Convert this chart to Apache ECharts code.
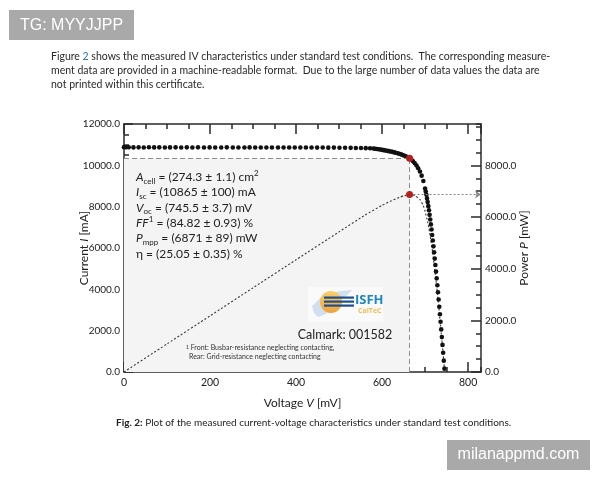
<!DOCTYPE html>
<html><head><meta charset="utf-8">
<script src="https://cdn.jsdelivr.net/npm/echarts@6/dist/echarts.min.js"></script>
<style>html,body{margin:0;padding:0;background:#fff}#c{width:600px;height:480px}</style>
</head><body><div id="c"></div>
<script>
// ---- data ----
const ivVoltage = [0,5,11,22,34,46,58,70,82,95,107,120,133,146,159,172,186,199,212,226,239,253,266,280,292,305,318,331,344,358,371,384,397,410,423,436,449,462,475,488,501,514,527,539,551,562,572,
  580,584,588,592,596,600,604,608,612,616,620,624,628,632,636,640,644,648,652,656,660,664,668,672,676,680,684,688,692,696,
  700,701.5,703,704.5,706,707.5,709,710.5,712,713.5,715,716.5,718,719.5,721,722.5,724,725.5,727,728.5,730,731.5,733,734.5,736,737.5,739,740.5,742,743.5,745];
const ivCurrent = [10880,10875,10872,10868,10870,10866,10872,10868,10870,10865,10868,10871,10866,10869,10864,10870,10866,10868,10862,10866,10870,10864,10866,10862,10868,10864,10866,10860,10866,10862,10864,10860,10864,10862,10860,10862,10858,10860,10856,10858,10852,10850,10846,10842,10838,10832,10826,
  10817,10803,10790,10777,10764,10750,10735,10719,10702,10686,10670,10650,10629,10607,10584,10560,10531,10500,10467,10431,10393,10348,10278,10198,10104,9992,9860,9700,9500,9240,
  8880,8730,8573,8400,8221,8025,7824,7605,7382,7142,6895,6632,6363,6080,5789,5486,5177,4857,4532,4197,3857,3508,3155,2795,2431,2062,1689,1312,932,548,163];
const powerVoltage = [0,100,200,300,400,500,560,600,620,640,652,664,676,688,696,700,706,712,718,724,730,736,742,745.6];
const powerValue   = [0,1087,2173,3259,4344,5425,6070,6450,6615,6758,6824,6871,6830,6674,6431,6216,5804,5256,4569,3748,2816,1789,692,0];
const mppVoltage = 664, mppCurrent = 10348, mppPower = 6871;
const voltageMax = 830, currentMax = 12000, powerMax = 9600;
const resultLines = [
  '{i|A}{sub|cell} = (274.3 ± 1.1) cm{sup|2}',
  '{i|I}{sub|sc} = (10865 ± 100) mA',
  '{i|V}{sub|oc} = (745.5 ± 3.7) mV',
  '{i|FF}{sup|1} = (84.82 ± 0.93) %',
  '{i|P}{sub|mpp} = (6871 ± 89) mW',
  'η = (25.05 ± 0.35) %'
];
const paragraphLines = [
  'Figure {blue|2} shows the measured IV characteristics under standard test conditions.  The corresponding measure-',
  'ment data are provided in a machine-readable format.  Due to the large number of data values the data are',
  'not printed within this certificate.'
];
const footnoteLines = ['{sup|1} Front: Busbar-resistance neglecting contacting,', 'Rear: Grid-resistance neglecting contacting'];

// ---- chart ----
const FONT = 'Lato';
const AX = '#2a2a2a';
const chart = echarts.init(document.getElementById('c'));
function xAx(pos, interval, len, showLine, showLabel, extra) {
  return Object.assign({
    type: 'value', position: pos, min: 0, max: voltageMax, interval: interval,
    axisLine: { show: showLine, onZero: false, lineStyle: { color: AX, width: 1.5 } },
    axisTick: { show: true, inside: true, length: len, lineStyle: { color: AX, width: 1.5 } },
    axisLabel: { show: showLabel, showMaxLabel: false, fontFamily: FONT, fontSize: 10.5, color: '#222', margin: 5 },
    splitLine: { show: false }
  }, extra || {});
}
function yAx(pos, max, interval, len, showLine, showLabel, extra) {
  return Object.assign({
    type: 'value', position: pos, min: 0, max: max, interval: interval,
    axisLine: { show: showLine, onZero: false, lineStyle: { color: AX, width: 1.5 } },
    axisTick: { show: true, inside: true, length: len, lineStyle: { color: AX, width: 1.5 } },
    axisLabel: { show: showLabel, showMaxLabel: pos === 'left', fontFamily: FONT, fontSize: 10, color: '#222', margin: 4,
      formatter: v => v.toFixed(1) },
    splitLine: { show: false }
  }, extra || {});
}
const nameRich = { i: { fontStyle: 'italic', fontFamily: FONT, fontSize: 12, color: '#222' } };
const richMain = {
  i: { fontStyle: 'italic', fontFamily: FONT, fontSize: 12, fill: '#222', color: '#222', lineHeight: 16 },
  sub: { fontFamily: FONT, fontSize: 8, fill: '#222', color: '#222', lineHeight: 9, verticalAlign: 'bottom' },
  sup: { fontFamily: FONT, fontSize: 8, fill: '#222', color: '#222', lineHeight: 8, verticalAlign: 'top' }
};
const graphics = [];
// watermark boxes
graphics.push({ type: 'rect', shape: { x: 9, y: 10, width: 125, height: 30 }, style: { fill: '#a9a9a9' } });
graphics.push({ type: 'text', style: { text: 'TG: MYYJJPP', x: 71.5, y: 25.5, align: 'center', verticalAlign: 'middle', font: '16px "Liberation Sans"', fill: '#fff' } });
graphics.push({ type: 'rect', shape: { x: 447, y: 440, width: 143, height: 30 }, style: { fill: '#a9a9a9' } });
graphics.push({ type: 'text', style: { text: 'milanappmd.com', x: 518.5, y: 455, align: 'center', verticalAlign: 'middle', font: '16px "Liberation Sans"', fill: '#fff' } });
// paragraph
paragraphLines.forEach((t, k) => graphics.push({ type: 'text', style: {
  text: t, x: 51, y: 57 + k * 14, verticalAlign: 'middle', fontFamily: FONT, fontSize: 10.5, fill: '#2a2a2a',
  rich: { blue: { fontFamily: FONT, fontSize: 10.5, fill: '#2e75b6', color: '#2e75b6' } } } }));
// caption
graphics.push({ type: 'text', style: {
  text: '{b|Fig. 2:} Plot of the measured current-voltage characteristics under standard test conditions.',
  x: 116, y: 423, verticalAlign: 'middle', fontFamily: FONT, fontSize: 10, fill: '#222',
  rich: { b: { fontWeight: 'bold', fontFamily: FONT, fontSize: 10, fill: '#222', color: '#222' } } } });
// result annotations
resultLines.forEach((t, k) => graphics.push({ type: 'text', z: 10, style: {
  text: t, x: 136, y: 177 + k * 15.4, verticalAlign: 'middle', fontFamily: FONT, fontSize: 12, lineHeight: 16, fill: '#222', rich: richMain } }));
// footnote
footnoteLines.forEach((t, k) => graphics.push({ type: 'text', z: 10, style: {
  text: t, x: k === 0 ? 186 : 189, y: 348 + k * 9, verticalAlign: 'middle', fontFamily: FONT, fontSize: 7, fill: '#333',
  rich: { sup: { fontFamily: FONT, fontSize: 5, fill: '#333', color: '#333', lineHeight: 5, verticalAlign: 'top' } } } }));
// logo
graphics.push({ type: 'rect', z: 5, shape: { x: 308, y: 287, width: 75, height: 35 }, style: { fill: '#fafafa' } });
graphics.push({ type: 'polygon', z: 6, shape: { points: [[312,306],[322,296],[340,291],[352,290],[346,296],[335,304],[326,314],[318,317],[314,313]] }, style: { fill: 'rgba(130,175,220,0.35)' } });
graphics.push({ type: 'circle', z: 7, shape: { cx: 331, cy: 302, r: 11 }, style: { fill: new echarts.graphic.LinearGradient(0,0,0,1,[{offset:0,color:'#f9cf6e'},{offset:1,color:'#eea23a'}]) } });
[297.5, 301.5, 305.5].forEach(y => graphics.push({ type: 'rect', z: 8, shape: { x: 324, y: y - 1, width: 30, height: 2.2 }, style: { fill: '#1d4f8c' } }));
graphics.push({ type: 'text', z: 8, style: { text: 'ISFH', x: 355, y: 300, verticalAlign: 'middle', font: 'bold 13px "Open Sans"', fill: '#1f86c6' } });
graphics.push({ type: 'text', z: 8, style: { text: 'CalTeC', x: 358, y: 311, verticalAlign: 'middle', font: 'bold 7px "Open Sans"', fill: '#f2bd55' } });
graphics.push({ type: 'text', z: 8, style: { text: 'Calmark: 001582', x: 345, y: 335, align: 'center', verticalAlign: 'middle', fontFamily: FONT, fontSize: 12.5, fill: '#222' } });

chart.setOption({
  animation: false,
  backgroundColor: '#fff',
  grid: { left: 124, right: 119, top: 124, bottom: 108, containLabel: false },
  xAxis: [
    xAx('bottom', 200, 10, true, true, { name: 'Voltage {i|V} [mV]', nameLocation: 'middle', nameGap: 25, nameMoveOverlap: false,
      nameTextStyle: { fontFamily: FONT, fontSize: 12, color: '#222', rich: nameRich } }),
    xAx('bottom', 50, 5, false, false),
    xAx('top', 200, 10, true, false),
    xAx('top', 50, 5, false, false)
  ],
  yAxis: [
    yAx('left', currentMax, 2000, 9, true, true, { name: 'Current {i|I} [mA]', nameLocation: 'middle', nameGap: 34, nameRotate: 90, nameMoveOverlap: false,
      nameTextStyle: { fontFamily: FONT, fontSize: 12, color: '#222', rich: nameRich } }),
    yAx('left', currentMax, 500, 5, false, false),
    yAx('right', powerMax, 2000, 10, true, true, { name: 'Power {i|P} [mW]', nameLocation: 'middle', nameGap: 37, nameRotate: 90, nameMoveOverlap: false,
      nameTextStyle: { fontFamily: FONT, fontSize: 12, color: '#222', rich: nameRich } }),
    yAx('right', powerMax, 500, 5, false, false)
  ],
  graphic: graphics,
  series: [
    { type: 'line', xAxisIndex: 0, yAxisIndex: 0, data: [], z: 1, silent: true,
      markArea: { silent: true, itemStyle: { color: '#f4f4f4' }, data: [[{ coord: [0, 0] }, { coord: [mppVoltage, mppCurrent] }]] },
      markLine: { silent: true, symbol: 'none', label: { show: false }, lineStyle: { color: '#8e8e8e', type: [5, 3], width: 1 },
        data: [[{ coord: [0, mppCurrent] }, { coord: [mppVoltage, mppCurrent] }], [{ coord: [mppVoltage, 0] }, { coord: [mppVoltage, mppCurrent] }]] } },
    { type: 'line', xAxisIndex: 0, yAxisIndex: 2, z: 3, showSymbol: false, smooth: 0.2,
      data: powerVoltage.map((v, k) => [v, powerValue[k]]),
      lineStyle: { color: '#333', width: 1.1, type: [2, 2] },
      markLine: { silent: true, symbol: ['none', 'arrow'], symbolSize: [6, 6], label: { show: false },
        lineStyle: { color: '#888', type: [2, 2], width: 1 },
        data: [[{ coord: [mppVoltage, mppPower] }, { coord: [voltageMax, mppPower] }]] } },
    { type: 'scatter', xAxisIndex: 0, yAxisIndex: 0, z: 4, symbolSize: 4.6,
      data: ivVoltage.map((v, k) => [v, ivCurrent[k]]), itemStyle: { color: '#111', opacity: 1 } },
    { type: 'scatter', xAxisIndex: 0, yAxisIndex: 0, z: 5, symbolSize: 7, data: [[mppVoltage, mppCurrent]], itemStyle: { color: '#b3211e', opacity: 1 } },
    { type: 'scatter', xAxisIndex: 0, yAxisIndex: 2, z: 5, symbolSize: 7, data: [[mppVoltage, mppPower]], itemStyle: { color: '#b3211e', opacity: 1 } }
  ]
});
</script></body></html>
